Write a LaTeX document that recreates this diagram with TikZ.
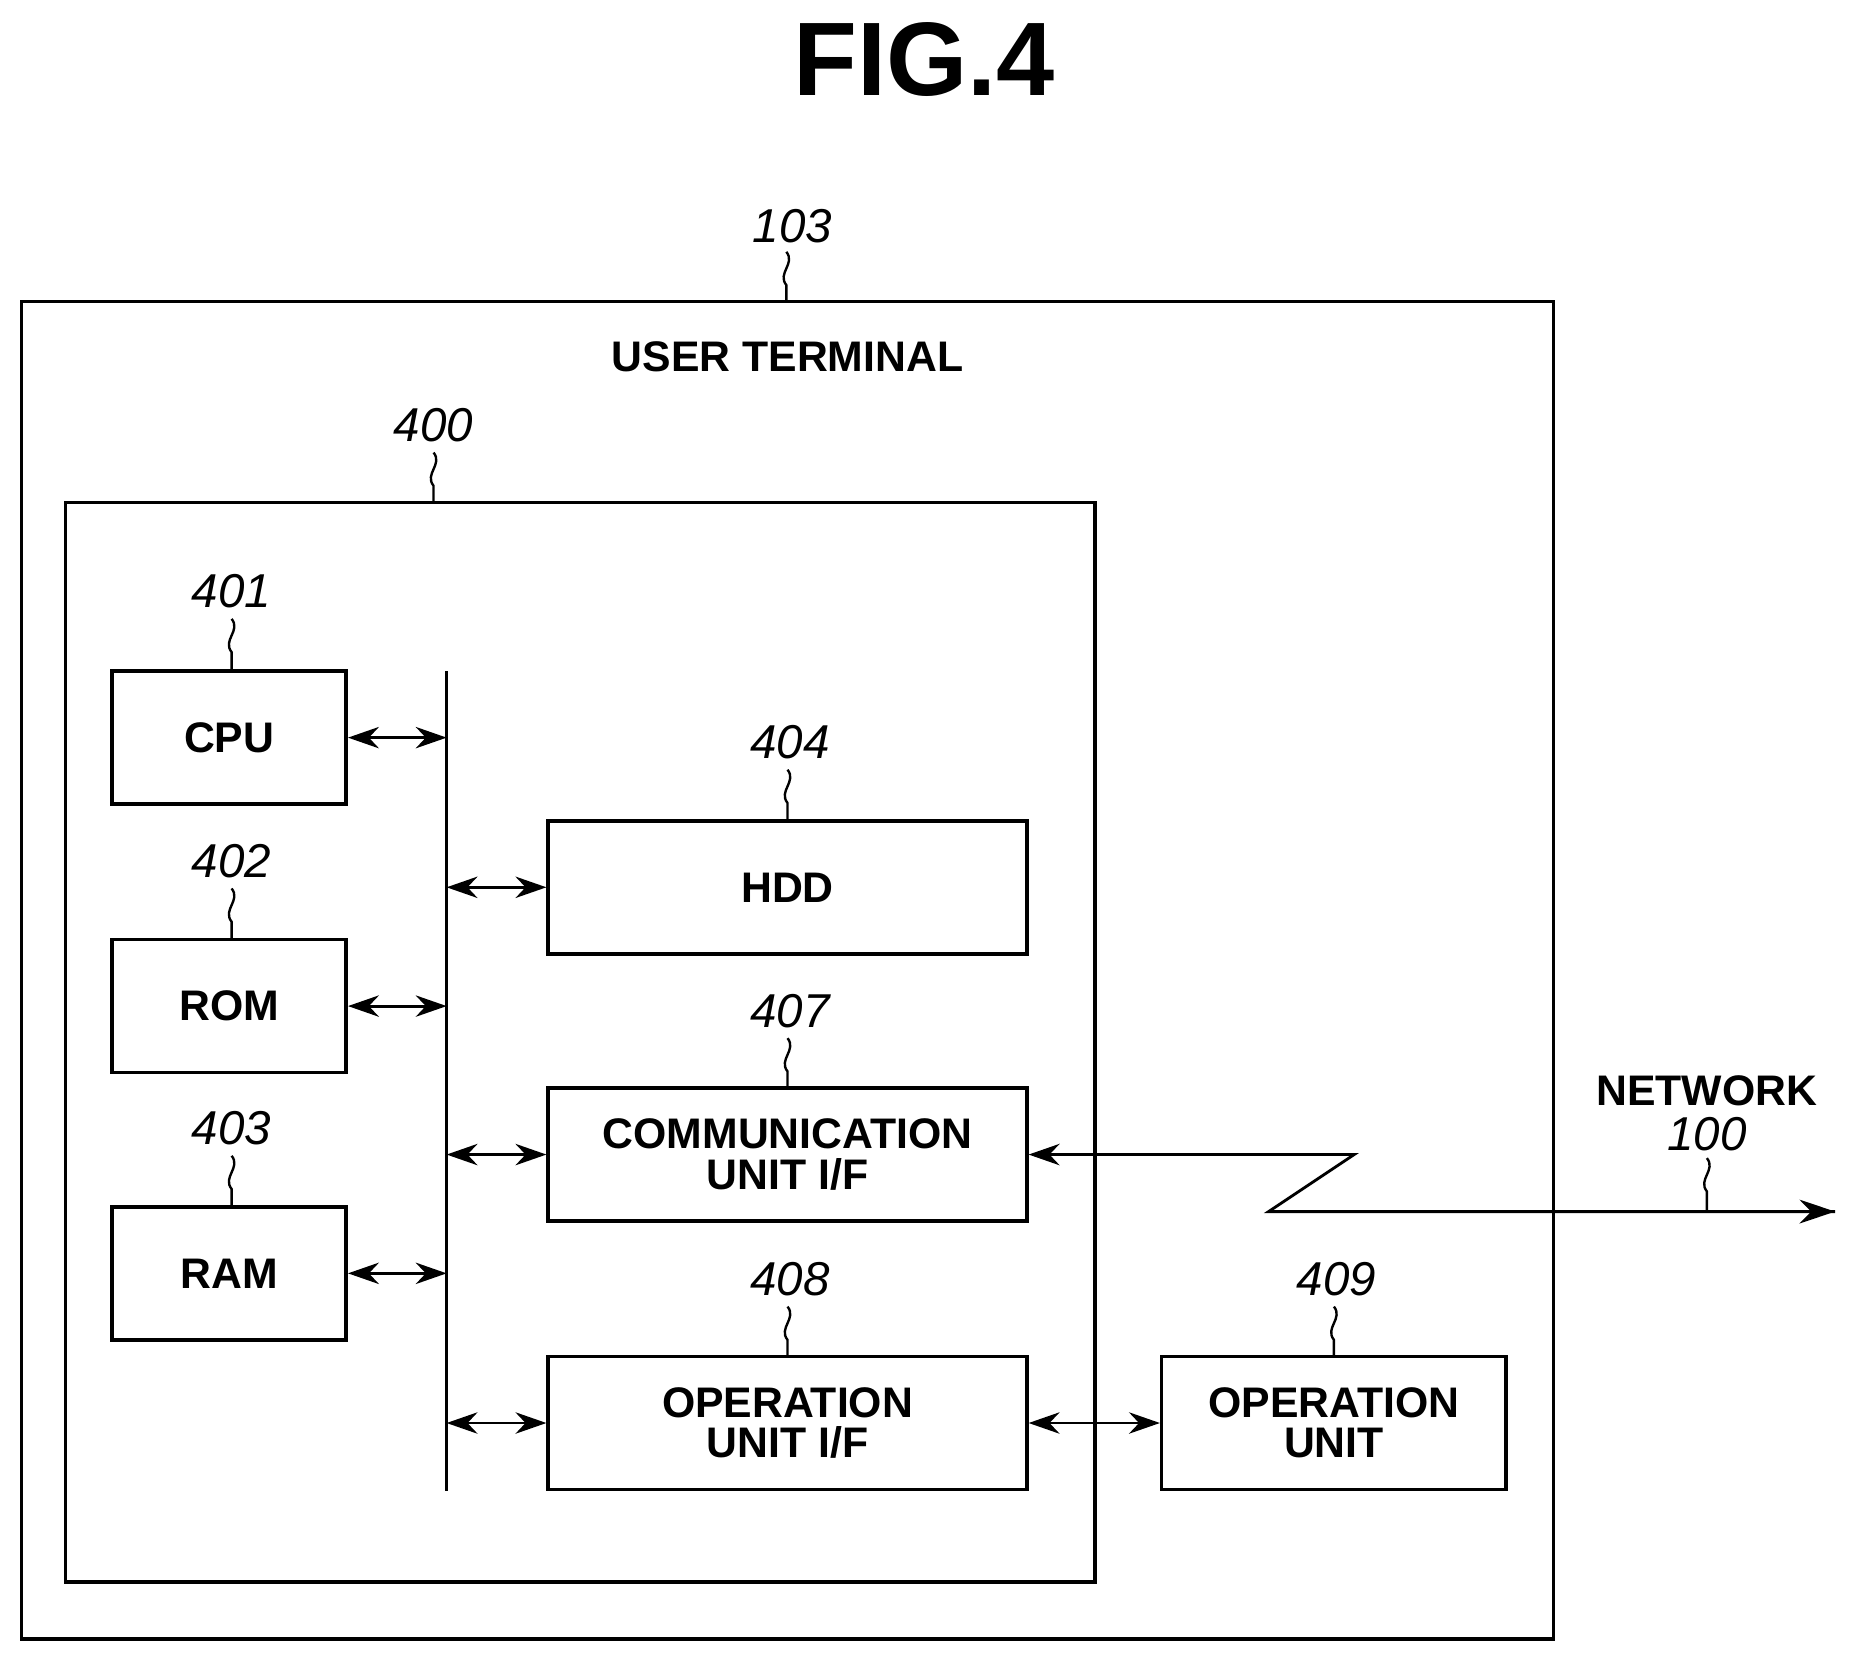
\documentclass[tikz,border=0pt]{standalone}
\usepackage{fontspec}
\setmainfont{Liberation Sans}
\usetikzlibrary{arrows.meta}
\begin{document}
\begin{tikzpicture}[x=0.5pt,y=-0.5pt,
  box/.style={draw,line width=1.5pt,inner sep=0pt,font=\fontsize{18}{17}\selectfont\bfseries,align=center},
  num/.style={font=\fontsize{20}{20}\selectfont\itshape},
  lbl/.style={font=\fontsize{18}{18}\selectfont\bfseries},
  arr/.style={line width=1.2pt,{Stealth[length=13pt,width=9pt]}-{Stealth[length=13pt,width=9pt]}},
  lead/.style={line width=1pt}]
\useasboundingbox (0,0) rectangle (1560,1391);
\node[font=\fontsize{44}{44}\selectfont\bfseries] (title) at (778,50) {FIG.4};
% outer
\draw[line width=1.5pt] (18,254) rectangle (1308,1380);
\node[num] (n103) at (667,190) {103};
\node[lbl] (ut) at (663,300) {USER TERMINAL};
\draw[lead] (662,212) .. controls (670,222) and (654,230) .. (662,240) -- (662,254);
% inner
\draw[line width=1.5pt] (55,423) rectangle (922,1332);
\node[num] (n400) at (365,358) {400};
\draw[lead] (365,381) .. controls (373,391) and (357,399) .. (365,409) -- (365,423);
% left boxes
\node[box,minimum width=98.5pt,minimum height=56pt] (cpu) at (193,621) {CPU};
\node[box,minimum width=98.5pt,minimum height=56pt] (rom) at (193,847) {ROM};
\node[box,minimum width=98.5pt,minimum height=56pt] (ram) at (193,1072) {RAM};
\foreach \n/\y/\t in {n401/498/401,n402/725/402,n403/950/403}{
  \node[num] (\n) at (195,\y) {\t};
  \draw[lead] (195,\y+23) .. controls (203,\y+33) and (187,\y+41) .. (195,\y+51) -- (195,\y+67);
}
% bus
\coordinate (bt) at (376,565); \coordinate (bb) at (376,1255);
\draw[line width=1.5pt] (bt) -- (bb);
% right boxes
\node[box,minimum width=201.5pt,minimum height=56pt] (hdd) at (663,747) {HDD};
\node[box,minimum width=201.5pt,minimum height=56pt] (comm) at (663,972) {COMMUNICATION\\UNIT I/F};
\node[box,minimum width=201.5pt,minimum height=56pt] (opif) at (663,1198) {OPERATION\\UNIT I/F};
\node[box,minimum width=145pt,minimum height=56pt] (opu) at (1123,1198) {OPERATION\\UNIT};
\foreach \n/\x/\y/\t in {n404/665/625/404,n407/665/851/407,n408/665/1077/408,n409/1125/1077/409}{
  \node[num] (\n) at (\x,\y) {\t};
  \draw[lead] (\x-2,\y+23) .. controls (\x+6,\y+33) and (\x-10,\y+41) .. (\x-2,\y+51) -- (\x-2,\y+65);
}
% bus arrows
\foreach \b/\y in {cpu/621,rom/847,ram/1072}{ \draw[arr] (\b.east) -- (376,\y); }
\foreach \b/\y in {hdd/747,comm/972,opif/1198}{ \draw[arr] (376,\y) -- (\b.west); }
\draw[arr] (opif.east) -- (opu.west);
% network
\coordinate (z1) at (1140,972); \coordinate (z2) at (1068,1020); \coordinate (ne) at (1545,1020);
\draw[line width=1.2pt,{Stealth[length=13pt,width=9pt]}-] (comm.east) -- (z1) -- (z2) -- (ne);
\draw[line width=1.2pt,-{Stealth[length=15pt,width=10pt]}] (1500,1020) -- (ne);
\node[lbl] (net) at (1437,918) {NETWORK};
\node[num] (n100) at (1437,955) {100};
\draw[lead] (1437,975) .. controls (1445,985) and (1429,993) .. (1437,1003) -- (1437,1020);
\end{tikzpicture}
\end{document}
